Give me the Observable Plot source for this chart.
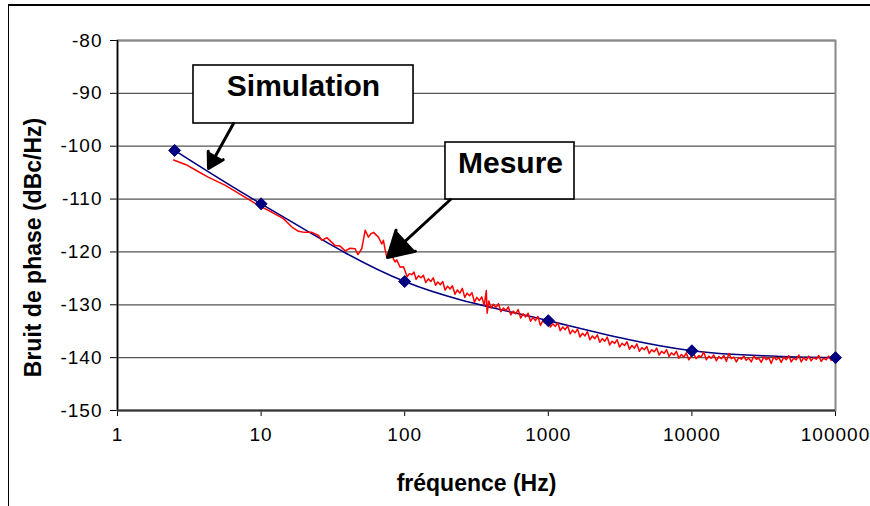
<!DOCTYPE html>
<html><head><meta charset="utf-8">
<script src="https://cdn.jsdelivr.net/npm/d3@7"></script>
<script src="https://cdn.jsdelivr.net/npm/@observablehq/plot@0.6"></script>
<style>
html,body{margin:0;padding:0;background:#fff;}
#wrap{position:relative;width:870px;height:506px;overflow:hidden;background:#fff;}
#frame{position:absolute;left:8px;top:4px;width:900px;height:600px;border-left:1.5px solid #000;border-top:2px solid #000;}
#chart{position:absolute;left:0;top:0;}
</style></head><body>
<div id="wrap"><div id="frame"></div><div id="chart"></div></div>
<script>
// ---- data ----
const xTicks = [1, 10, 100, 1000, 10000, 100000];
const yTicks = [-150, -140, -130, -120, -110, -100, -90, -80];
const gridDb = [-140, -130, -120, -110, -100, -90, -80];

// Simulation (blue, diamonds)
const simFreq = [2.5, 10, 100, 1000, 10000, 100000];
const simDb   = [-100.8, -110.9, -125.6, -133.0, -138.7, -140.0];

// Mesure (red)
const measFreq = [
  2.46, 3.0, 3.49, 4.31, 5.64, 7.36, 9.6, 11.9, 14.3, 16.4, 18.2, 20, 22.6, 25.1, 26.5, 28.7, 30.3, 32.8, 35.5, 38.5,
  41.7, 45.2, 47.2, 50.2, 51.5, 53.1, 55.9, 58, 60.6, 65.6, 69.3, 71.1, 73, 75, 78, 81.3, 85.7, 88, 92.9, 98,
  100, 104, 108, 112, 116, 120, 125, 130, 135, 140, 146, 152, 158, 164, 170, 177, 184, 191, 199, 207,
  215, 224, 233, 242, 252, 262, 272, 283, 294, 306, 318, 331, 344, 358, 370, 375, 385, 400, 415, 432,
  450, 468, 487, 506, 527, 548, 570, 593, 617, 642, 668, 695, 723, 752, 782, 814, 847, 881, 917, 954,
  993, 1033, 1075, 1119, 1164, 1211, 1260, 1311, 1364, 1419, 1476, 1536, 1598, 1663, 1730, 1800, 1873, 1949, 2028, 2110,
  2195, 2284, 2376, 2472, 2572, 2676, 2784, 2897, 3014, 3136, 3263, 3395, 3532, 3675, 3824, 3978, 4139, 4307, 4481, 4662,
  4850, 5046, 5250, 5463, 5683, 5913, 6152, 6401, 6660, 6929, 7209, 7500, 7803, 8119, 8447, 8788, 9143, 9513, 9897, 10300,
  10700, 11200, 11600, 12100, 12600, 13100, 13600, 14200, 14800, 15400, 16000, 16700, 17400, 18100, 18800, 19600, 20400, 21200, 22100, 23000,
  23900, 24900, 25900, 27000, 28100, 29200, 30400, 31700, 33000, 34300, 35700, 37200, 38700, 40300, 41900, 43600, 45400, 47300, 49200, 51200,
  53300, 55500, 57700, 60100, 62500, 65100, 67700, 70500, 73400, 76400, 79500, 82700, 86100, 89600, 93300, 97100, 100000
];
const measDb = [
  -102.6, -103.5, -104.5, -105.9, -107.4, -109.3, -111.2, -112.5, -113.7, -115.3, -116.1, -116.3, -116.3, -116.9, -117.8, -117.3, -117.9, -118.8, -118.9, -119.8,
  -119.3, -119.4, -120.5, -119.4, -117.8, -115.9, -117.2, -116.6, -116.3, -117.2, -118.5, -117.8, -119.5, -121.0, -120.4, -120.7, -121.9, -121.5, -122.9, -122.8,
  -123.4, -124.7, -124.1, -124.3, -123.8, -125.2, -124.5, -124.9, -124.4, -125.8, -125.1, -125.6, -124.9, -126.3, -125.7, -126.2, -125.6, -127.2, -126.5, -127.0,
  -126.4, -128.0, -127.2, -127.8, -126.9, -128.6, -127.8, -128.3, -127.7, -129.5, -128.6, -129.2, -128.5, -130.1, -127.3, -131.6, -129.3, -130.6, -129.9, -130.5,
  -129.8, -131.3, -130.6, -131.1, -130.4, -131.9, -131.2, -131.7, -130.9, -132.5, -131.7, -132.3, -131.6, -133.1, -132.4, -133.0, -132.2, -133.9, -133.0, -133.5,
  -132.8, -134.2, -133.6, -134.1, -133.4, -134.9, -134.2, -134.7, -134.0, -135.5, -134.8, -135.3, -134.6, -136.1, -135.4, -135.9, -135.1, -136.6, -135.9, -136.4,
  -135.7, -137.1, -136.4, -136.9, -136.1, -137.6, -136.9, -137.3, -136.6, -138.0, -137.3, -137.7, -137.0, -138.4, -137.7, -138.2, -137.4, -138.8, -138.1, -138.5,
  -137.9, -139.2, -138.5, -138.9, -138.2, -139.5, -138.8, -139.2, -138.5, -139.8, -139.1, -139.5, -138.8, -140.1, -139.4, -139.9, -139.1, -140.4, -139.7, -139.3,
  -140.2, -139.6, -139.9, -138.9, -140.4, -139.7, -140.1, -139.5, -140.6, -139.8, -140.2, -139.6, -140.7, -139.2, -140.2, -139.9, -140.8, -140.0, -140.3, -139.7,
  -140.5, -140.1, -140.8, -139.7, -140.3, -140.1, -140.9, -139.8, -140.4, -140.0, -141.1, -139.8, -140.4, -140.0, -140.9, -139.9, -140.4, -139.6, -140.8, -140.1,
  -140.4, -139.5, -140.8, -140.0, -140.5, -139.7, -140.6, -140.0, -140.3, -139.6, -140.7, -140.1, -140.4, -139.7, -140.5, -140.1, -140.2
];

// Annotations (data coordinates)
const boxLabels = ["Simulation", "Mesure"];
const boxX1 = [3.382, 192.3];
const boxX2 = [115.2, 1522];
const boxY1 = [-84.73, -99.30];
const boxY2 = [-95.70, -110.08];
const labelX = [19.74, 545.6];
const labelY = [-88.7, -103.18];
const arrowX1 = [6.425, 208.4];
const arrowY1 = [-95.70, -110.08];
const arrowX2 = [4.302, 75.9];
const arrowY2 = [-104.22, -121.05];

const xTitle = "fréquence (Hz)";
const yTitle = "Bruit de phase (dBc/Hz)";

// ---- tables ----
const sim = simFreq.map((f, i) => ({f, db: simDb[i]}));
const meas = measFreq.map((f, i) => ({f, db: measDb[i]}));
const boxes = boxLabels.map((label, i) => ({label, x1: boxX1[i], x2: boxX2[i], y1: boxY1[i], y2: boxY2[i], lx: labelX[i], ly: labelY[i]}));
const arrows = arrowX1.map((x1, i) => ({x1, y1: arrowY1[i], x2: arrowX2[i], y2: arrowY2[i]}));

const chart = Plot.plot({
  width: 870,
  height: 506,
  marginLeft: 117,
  marginRight: 35,
  marginTop: 40,
  marginBottom: 96,
  style: {fontFamily: "'Liberation Sans', Arial, sans-serif", fontSize: "19px", background: "transparent", color: "#000", overflow: "visible"},
  x: {type: "log", domain: [1, 100000], ticks: xTicks, tickFormat: d => String(d), tickSize: 6, tickPadding: 11, label: null},
  y: {domain: [-150, -80], ticks: yTicks, tickFormat: d => String(d), tickSize: 7, tickPadding: 8, label: null},
  marks: [
    Plot.ruleY(gridDb, {stroke: "#555", strokeWidth: 1.3}),
    Plot.frame({stroke: "#888", strokeWidth: 2}),
    Plot.ruleX([1], {stroke: "#000", strokeWidth: 1.5}),
    Plot.ruleY([-150], {stroke: "#333", strokeWidth: 2}),
    Plot.line(sim, {x: "f", y: "db", stroke: "#000080", strokeWidth: 1.6, curve: "catmull-rom"}),
    Plot.line(meas, {x: "f", y: "db", stroke: "#ff0000", strokeWidth: 1.5}),
    Plot.dot(sim, {x: "f", y: "db", symbol: "diamond2", r: 5.4, fill: "#000080", stroke: "#000080", strokeWidth: 1}),
    Plot.rect(boxes, {x1: "x1", x2: "x2", y1: "y1", y2: "y2", fill: "white", stroke: "#000", strokeWidth: 1.6}),
    Plot.text(boxes, {x: "lx", y: "ly", text: "label", fontSize: 30, fontWeight: "bold", fill: "#000", lineAnchor: "middle"}),
    Plot.arrow(arrows, {x1: "x1", y1: "y1", x2: "x2", y2: "y2", stroke: "#000", strokeWidth: 3, headLength: 16, headAngle: 60}),
    Plot.text([xTitle], {text: d => d, frameAnchor: "bottom", dy: 73, fontSize: 23, fontWeight: "bold", lineAnchor: "middle", textAnchor: "middle"}),
    Plot.text([yTitle], {text: d => d, frameAnchor: "left", rotate: -90, dx: -84, dy: 22, fontSize: 23, fontWeight: "bold", lineAnchor: "middle", textAnchor: "middle"})
  ]
});
// fill the arrow heads (closed triangles) and widen tick labels a little
chart.querySelectorAll('g[aria-label="arrow"] path').forEach(p => { p.setAttribute("fill", "#000"); p.setAttribute("stroke-linejoin", "miter"); });
chart.querySelectorAll('g[aria-label*="tick label"] text').forEach(t => t.setAttribute("letter-spacing", "1px"));
document.getElementById("chart").appendChild(chart);
</script>
</body></html>
